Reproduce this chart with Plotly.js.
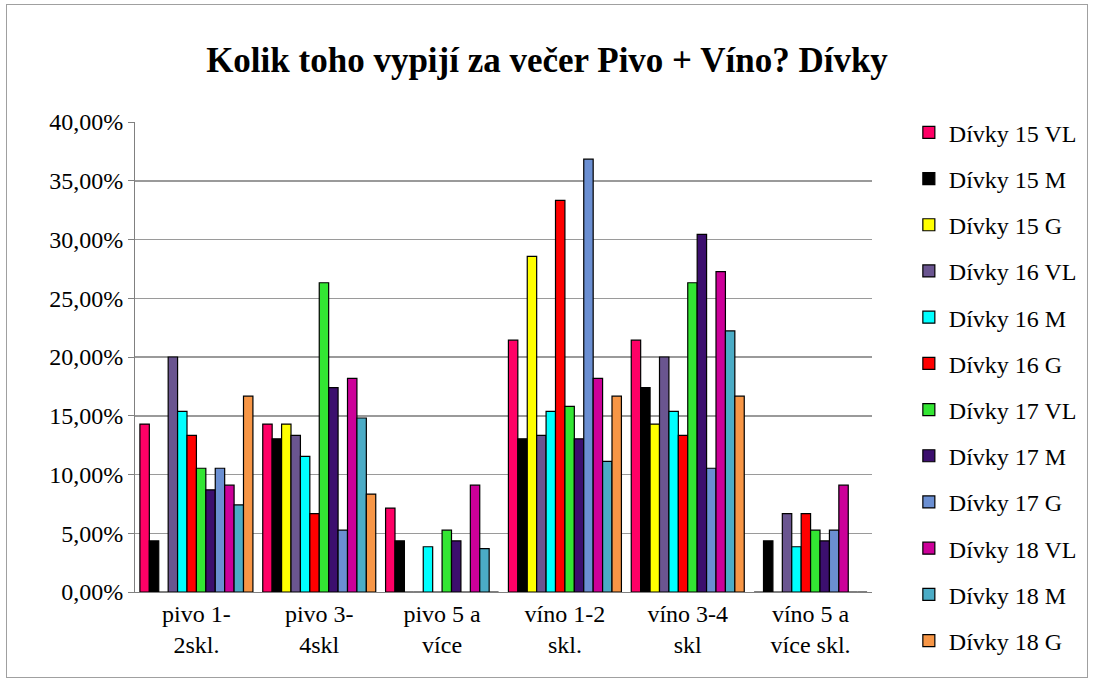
<!DOCTYPE html>
<html>
<head>
<meta charset="utf-8">
<script src="https://cdn.plot.ly/plotly-3.0.1.min.js"></script>
<style>
html,body{margin:0;padding:0;background:#fff;}
#frame{position:absolute;left:6px;top:4px;width:1082px;height:674px;border:1px solid #a0a0a0;box-sizing:border-box;pointer-events:none;}
#chart{position:absolute;left:0;top:0;width:1094px;height:684px;}
</style>
</head>
<body>
<div id="chart"></div>
<div id="frame"></div>
<script>
const categories = ["pivo 1-<br>2skl.", "pivo 3-<br>4skl", "pivo 5 a<br>více", "víno 1-2<br>skl.", "víno 3-4<br>skl", "víno 5 a<br>více skl."];
const seriesNames = ["Dívky 15 VL","Dívky 15 M","Dívky 15 G","Dívky 16 VL","Dívky 16 M","Dívky 16 G","Dívky 17 VL","Dívky 17 M","Dívky 17 G","Dívky 18 VL","Dívky 18 M","Dívky 18 G"];
const seriesColors = ["#FF0066","#000000","#FFFF00","#6A5590","#00FFFF","#FF0000","#33E633","#3C0F6E","#6B8FD2","#CC0099","#4BACC6","#F79646"];
const d15VL = [0.1429, 0.1429, 0.0714, 0.2143, 0.2143, 0];
const d15M  = [0.0435, 0.1304, 0.0435, 0.1304, 0.1739, 0.0435];
const d15G  = [0, 0.1429, 0, 0.2857, 0.1429, 0];
const d16VL = [0.2000, 0.1333, 0, 0.1333, 0.2000, 0.0667];
const d16M  = [0.1538, 0.1154, 0.0385, 0.1538, 0.1538, 0.0385];
const d16G  = [0.1333, 0.0667, 0, 0.3333, 0.1333, 0.0667];
const d17VL = [0.1053, 0.2632, 0.0526, 0.1579, 0.2632, 0.0526];
const d17M  = [0.0870, 0.1739, 0.0435, 0.1304, 0.3043, 0.0435];
const d17G  = [0.1053, 0.0526, 0, 0.3684, 0.1053, 0.0526];
const d18VL = [0.0909, 0.1818, 0.0909, 0.1818, 0.2727, 0.0909];
const d18M  = [0.0741, 0.1481, 0.0370, 0.1111, 0.2222, 0];
const d18G  = [0.1667, 0.0833, 0, 0.1667, 0.1667, 0];
const seriesValues = [d15VL,d15M,d15G,d16VL,d16M,d16G,d17VL,d17M,d17G,d18VL,d18M,d18G];
const yTicks = [0,0.05,0.10,0.15,0.20,0.25,0.30,0.35,0.40];

const font = 'Times New Roman, Liberation Serif, DejaVu Serif, serif';
const traces = seriesNames.map((n,i)=>({
  type:'bar', name:n, x:categories, y:seriesValues[i],
  legendgroup:'g'+i,
  marker:{color:seriesColors[i], line:{color:'#000000', width:1.2}},
  hoverinfo:'y+name'
}));

const layout = {
  width:1094, height:684,
  font:{family:font, color:'#000', size:24},
  paper_bgcolor:'#ffffff', plot_bgcolor:'#ffffff',
  separators:', ',
  margin:{l:135, r:219, t:122, b:92},
  title:{text:'<b>Kolik toho vypijí za večer Pivo + Víno? Dívky</b>', x:0.5, xanchor:'center', y:0.913, yanchor:'middle',
         font:{family:font, size:35, color:'#000'}},
  barmode:'group', bargap:0.08, bargroupgap:0,
  xaxis:{tickfont:{family:font, size:24, color:'#000'}, showgrid:false, showline:true, linecolor:'#808080', linewidth:1, ticks:'', automargin:false},
  yaxis:{range:[0,0.40], tickvals:yTicks, tickformat:'.2%', tickfont:{family:font, size:24, color:'#000'},
         showgrid:true, gridcolor:'#9a9a9a', gridwidth:1.5, showline:true, linecolor:'#808080', linewidth:1,
         ticks:'outside', ticklen:6, tickcolor:'#808080', zeroline:false, automargin:false},
  legend:{x:1.05, xanchor:'left', y:1.025, yanchor:'top', tracegroupgap:12, itemwidth:30, maxheight:1,
          font:{family:font, size:24, color:'#000'}, bgcolor:'rgba(0,0,0,0)'},
  showlegend:true
};
Plotly.newPlot('chart', traces, layout, {displayModeBar:false, staticPlot:true});
</script>
</body>
</html>
